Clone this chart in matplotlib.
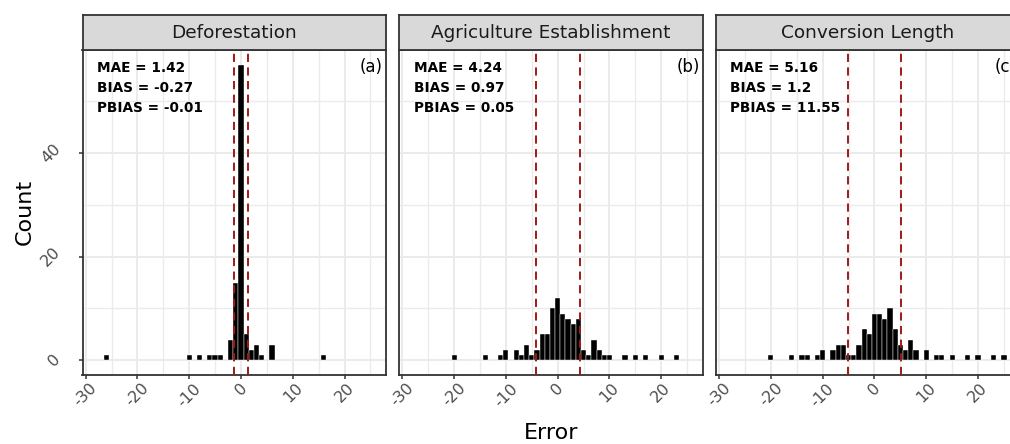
import matplotlib
matplotlib.use("Agg")
import matplotlib.pyplot as plt
from matplotlib.ticker import MultipleLocator

plt.rcParams['font.family'] = ['DejaVu Sans']
plt.rcParams['axes.unicode_minus'] = False

# error values (bin centres, binwidth 1) and counts
defor_err = [-26, -10, -8, -6, -5, -4, -2, -1, 0, 1, 2, 3, 4, 6, 16]
defor_cnt = [1, 1, 1, 1, 1, 1, 4, 15, 57, 5, 2, 3, 1, 3, 1]

agri_err = [-20, -14, -11, -10, -8, -7, -6, -5, -4, -3, -2, -1, 0, 1, 2, 3,
            4, 5, 6, 7, 8, 9, 10, 13, 15, 17, 20, 23]
agri_cnt = [1, 1, 1, 2, 2, 1, 3, 1, 2, 5, 5, 10, 12, 9, 8, 7,
            8, 2, 1, 4, 2, 1, 1, 1, 1, 1, 1, 1]

conv_err = [-20, -16, -14, -13, -11, -10, -8, -7, -6, -5, -4, -3, -2, -1, 0,
            1, 2, 3, 4, 5, 6, 7, 8, 10, 12, 13, 15, 18, 20, 23, 25]
conv_cnt = [1, 1, 1, 1, 1, 2, 2, 3, 3, 1, 1, 3, 6, 5, 9,
            9, 8, 10, 6, 3, 2, 4, 2, 2, 1, 1, 1, 1, 1, 1, 1]

titles = ['Deforestation', 'Agriculture Establishment', 'Conversion Length']
tags = ['(a)', '(b)', '(c)']
mae = [1.42, 4.24, 5.16]
bias = ['-0.27', '0.97', '1.2']
pbias = ['-0.01', '0.05', '11.55']

errors = [defor_err, agri_err, conv_err]
counts = [defor_cnt, agri_cnt, conv_cnt]

W, H = 1010, 444
fig = plt.figure(figsize=(W / 100, H / 100), dpi=100)

grey20 = '#333333'
lefts = [82.5, 399.2, 716.0]
pw, top, bottom = 303.5, 50.5, 375.0

for i in range(3):
    ax = fig.add_axes([lefts[i] / W, (H - bottom) / H, pw / W, (bottom - top) / H])
    ax.set_xlim(-30.6, 28.0)
    ax.set_ylim(-2.85, 59.85)
    ax.xaxis.set_major_locator(MultipleLocator(10))
    ax.xaxis.set_minor_locator(MultipleLocator(5))
    ax.set_yticks([0, 20, 40])
    ax.set_yticks([10, 30, 50], minor=True)
    ax.grid(True, which='major', color='#EBEBEB', lw=1.4)
    ax.grid(True, which='minor', color='#EBEBEB', lw=1.0)
    ax.set_axisbelow(True)
    for s in ax.spines.values():
        s.set_color(grey20)
        s.set_linewidth(1.3)

    ax.bar(errors[i], counts[i], width=1, color='black', edgecolor='white', lw=0.3, zorder=2)
    for v in (-mae[i], mae[i]):
        ax.axvline(v, color='#9E1A1A', lw=1.4, ls=(0, (4.2, 2.8)), zorder=3)

    ax.tick_params(which='minor', length=0)
    ax.tick_params(which='major', color=grey20, length=3, width=1.1,
                   labelcolor='#4D4D4D', labelsize=11.5)
    for lab in ax.get_xticklabels():
        lab.set_rotation(45)
        lab.set_ha('center')
        lab.set_va('top')
    ax.tick_params(axis='x', pad=1)
    if i == 0:
        ax.tick_params(axis='y', pad=10.5)
        for lab in ax.get_yticklabels():
            lab.set_rotation(45)
            lab.set_ha('right')
            lab.set_va('center')
    else:
        ax.tick_params(axis='y', left=False, labelleft=False)

    ax.text(0.0475, 1 - 10.5 / 324.5, 'MAE = %.2f' % mae[i], transform=ax.transAxes,
            fontsize=9.8, fontweight='bold', va='top', ha='left')
    ax.text(0.0475, 1 - 30.5 / 324.5, 'BIAS = ' + bias[i], transform=ax.transAxes,
            fontsize=9.8, fontweight='bold', va='top', ha='left')
    ax.text(0.0475, 1 - 50.5 / 324.5, 'PBIAS = ' + pbias[i], transform=ax.transAxes,
            fontsize=9.8, fontweight='bold', va='top', ha='left')
    ax.text(1 - 3 / pw, 1 - 8 / 324.5, tags[i], transform=ax.transAxes,
            fontsize=12, va='top', ha='right')

    # facet strip
    st = fig.add_axes([lefts[i] / W, (H - top) / H, pw / W, 35.5 / H])
    st.set_facecolor('#D9D9D9')
    st.set_xticks([])
    st.set_yticks([])
    for s in st.spines.values():
        s.set_color(grey20)
        s.set_linewidth(1.3)
    st.text(0.5, 0.5, titles[i], transform=st.transAxes, ha='center', va='center',
            fontsize=13.3, color='#1A1A1A')

fig.text(25 / W, (H - 212) / H, 'Count', rotation=90, ha='center', va='center', fontsize=16)
fig.text(551 / W, (H - 433) / H, 'Error', ha='center', va='center', fontsize=16)

fig.savefig('out.png', dpi=100)
